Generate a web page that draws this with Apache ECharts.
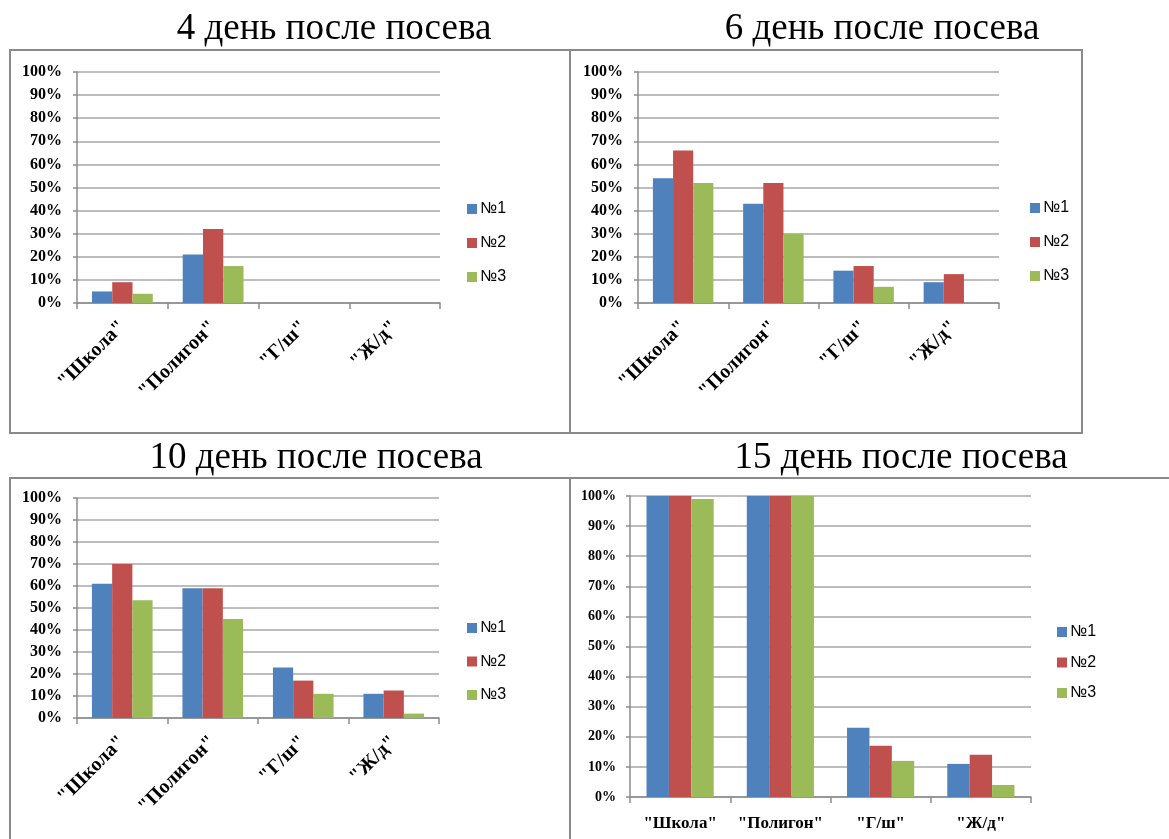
<!DOCTYPE html>
<html>
<head>
<meta charset="utf-8">
<script src="https://cdn.jsdelivr.net/npm/echarts@6/dist/echarts.min.js"></script>
<style>
  html, body { margin: 0; padding: 0; background: #ffffff; }
  #chart { width: 1169px; height: 839px; }
</style>
</head>
<body>
<div id="chart"></div>
<script>
// Sites where the seeds were sown
const categories = ['"Школа"', '"Полигон"', '"Г/ш"', '"Ж/д"'];
const seriesNames = ['№1', '№2', '№3'];
const panelTitles = ['4 день после посева', '6 день после посева', '10 день после посева', '15 день после посева'];

// Germination, % — day 4
const day4_n1 = [5, 21, 0, 0];
const day4_n2 = [9, 32, 0, 0];
const day4_n3 = [4, 16, 0, 0];
// day 6
const day6_n1 = [54, 43, 14, 9];
const day6_n2 = [66, 52, 16, 12.5];
const day6_n3 = [52, 30, 7, 0];
// day 10
const day10_n1 = [61, 59, 23, 11];
const day10_n2 = [70, 59, 17, 12.5];
const day10_n3 = [53.5, 45, 11, 2];
// day 15
const day15_n1 = [100, 100, 23, 11];
const day15_n2 = [100, 100, 17, 14];
const day15_n3 = [99, 100, 12, 4];

// Value axis
const yMin = 0;
const yMax = 100;
const yStep = 10;

const colors = ['#4F81BD', '#C0504D', '#9BBB59'];
const panelData = [
  [day4_n1, day4_n2, day4_n3],
  [day6_n1, day6_n2, day6_n3],
  [day10_n1, day10_n2, day10_n3],
  [day15_n1, day15_n2, day15_n3]
];

// Layout of the four panels
const grids = [
  { left: 77, top: 72, width: 363, height: 231 },
  { left: 638, top: 72, width: 361, height: 231 },
  { left: 77, top: 498, width: 362, height: 220 },
  { left: 630, top: 496, width: 401, height: 301 }
];
const legends = [
  { left: 467, top: 200, itemGap: 16 },
  { left: 1030, top: 199, itemGap: 16 },
  { left: 467, top: 619, itemGap: 15.5 },
  { left: 1057, top: 623, itemGap: 12.5 }
];
const titlePos = [
  { x: 334, y: 29 },
  { x: 882, y: 29 },
  { x: 316, y: 458 },
  { x: 901, y: 458 }
];
const frames = [
  { x: 10, y: 50, width: 560, height: 383 },
  { x: 570, y: 50, width: 512, height: 383 },
  { x: 10, y: 478, width: 560, height: 400 },
  { x: 570, y: 478, width: 640, height: 400 }
];

const serif = '"Liberation Serif", "Times New Roman", serif';
const sans = '"Liberation Sans", Arial, sans-serif';

const option = {
  animation: false,
  backgroundColor: '#ffffff',
  grid: grids.map(g => Object.assign({ containLabel: false }, g)),
  legend: legends.map(l => ({
    left: l.left,
    top: l.top,
    padding: 0,
    orient: 'vertical',
    itemGap: l.itemGap,
    itemWidth: 10,
    itemHeight: 10,
    icon: 'rect',
    selectedMode: false,
    data: seriesNames,
    textStyle: { fontFamily: sans, fontSize: 16, color: '#000', lineHeight: 18, padding: [0, 0, 0, -2] }
  })),
  xAxis: grids.map((g, i) => ({
    type: 'category',
    gridIndex: i,
    data: categories,
    axisLine: { lineStyle: { color: '#8c8c8c', width: 1.5 } },
    axisTick: { show: true, length: 6, lineStyle: { color: '#8c8c8c', width: 1.5 } },
    axisLabel: i === 3 ? {
      rotate: 0, margin: 18, color: '#000', fontFamily: serif, fontWeight: 'bold', fontSize: 17, interval: 0
    } : {
      rotate: 45, margin: 21, color: '#000', fontFamily: serif, fontWeight: 'bold', fontSize: 20, interval: 0
    }
  })),
  yAxis: grids.map((g, i) => ({
    type: 'value',
    gridIndex: i,
    min: yMin,
    max: yMax,
    interval: yStep,
    axisLine: { show: true, lineStyle: { color: '#8c8c8c', width: 1.5 } },
    axisTick: { show: true, length: 4, lineStyle: { color: '#8c8c8c', width: 1.5 } },
    splitLine: { show: true, lineStyle: { color: '#bdbdbd', width: 2 } },
    axisLabel: {
      formatter: '{value}%',
      margin: i === 3 ? 14 : 15,
      color: '#000',
      fontFamily: serif,
      fontWeight: 'bold',
      fontSize: i === 3 ? 14 : 16
    }
  })),
  series: [],
  graphic: []
};

panelData.forEach((sets, p) => {
  sets.forEach((values, k) => {
    option.series.push({
      type: 'bar',
      name: seriesNames[k],
      xAxisIndex: p,
      yAxisIndex: p,
      data: values,
      barGap: '0%',
      barCategoryGap: '33%',
      itemStyle: { color: colors[k] }
    });
  });
});

frames.forEach(f => {
  option.graphic.push({
    type: 'rect',
    shape: { x: f.x, y: f.y, width: f.width, height: f.height },
    style: { fill: 'none', stroke: '#8a8a8a', lineWidth: 2 },
    silent: true,
    z: 100
  });
});

panelTitles.forEach((t, i) => {
  option.graphic.push({
    type: 'text',
    x: titlePos[i].x,
    y: titlePos[i].y,
    style: {
      text: t,
      fill: '#000',
      font: '37px ' + serif,
      textAlign: 'center',
      textVerticalAlign: 'middle'
    },
    silent: true,
    z: 100
  });
});

const chart = echarts.init(document.getElementById('chart'), null, { renderer: 'canvas' });
chart.setOption(option);
</script>
</body>
</html>
